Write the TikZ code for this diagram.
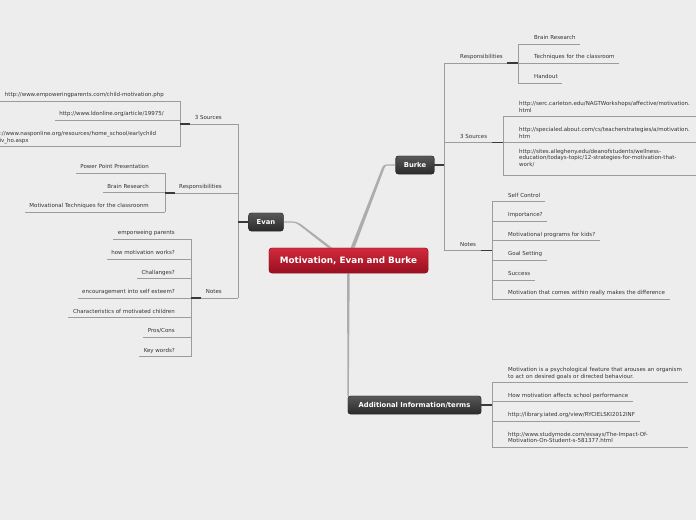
\documentclass[tikz,border=0pt]{standalone}
\usepackage{fontspec}
\usetikzlibrary{calc}
\newfontfamily\mapfont{DejaVu Sans}
\definecolor{MapBack}{HTML}{EDEDED}
\definecolor{MapText}{HTML}{333333}
\definecolor{MapLine}{HTML}{9C9C9C}
\definecolor{MapLink}{HTML}{3A3A3A}
\definecolor{MapBranch}{HTML}{ADADAD}
\definecolor{MapRedTop}{HTML}{D12A3C}
\definecolor{MapRedBot}{HTML}{981020}
\definecolor{MapDarkTop}{HTML}{585858}
\definecolor{MapDarkBot}{HTML}{2A2A2A}
\newcommand\leafstrut{\rule[-1.6pt]{0pt}{1.6pt}}

\begin{document}
\begin{tikzpicture}[x=1pt, y=-1pt,
    leaf/.style={font=\mapfont\fontsize{5.5}{6.6}\selectfont, text=MapText, inner sep=0pt,
        execute at end node={\leafstrut}},
    uline/.style={draw=MapLine, line width=0.8pt},
    leafL/.style={leaf, anchor=south east, xshift=-16pt, yshift=2.4pt,
        append after command={\pgfextra{\edef\leafname{\tikzlastnode}
            \draw[uline] ([shift={(16pt,-2.4pt)}]\leafname.south east) coordinate (\leafname-in)
                -- ([shift={(-4.5pt,-2.4pt)}]\leafname.south west) coordinate (\leafname-out);}}},
    leafR/.style={leaf, anchor=south west, xshift=16pt, yshift=2.4pt,
        append after command={\pgfextra{\edef\leafname{\tikzlastnode}
            \draw[uline] ([shift={(-16pt,-2.4pt)}]\leafname.south west) coordinate (\leafname-in)
                -- ([shift={(4.5pt,-2.4pt)}]\leafname.south east) coordinate (\leafname-out);}}},
    wrap/.style={text width=175pt, align=left},
    link/.style={draw=MapLink, line width=1.2pt},
    bracket/.style={draw=MapLine, line width=0.8pt},
    branch/.style={fill=MapBranch},
    topic/.style={rounded corners=2.5pt, top color=MapDarkTop, bottom color=MapDarkBot, draw=MapDarkBot,
        text=white, font=\mapfont\bfseries\fontsize{6.8}{8}\selectfont, minimum height=18pt, inner xsep=8pt},
    root/.style={rounded corners=3pt, top color=MapRedTop, bottom color=MapRedBot, draw=MapRedBot,
        text=white, font=\mapfont\bfseries\fontsize{8.8}{10}\selectfont, minimum width=159pt, minimum height=25pt}]

    % =========================================
    % 1. Canvas: 696 x 520, light grey
    % =========================================
    \useasboundingbox (0,0) rectangle (696,520);
    \clip (0,0) rectangle (696,520);
    \fill[MapBack] (0,0) rectangle (696,520);

    % =========================================
    % 2. Main topics
    % =========================================
    \node[root] (main) at (348.5,260.5) {Motivation, Evan and Burke};
    \node[topic, minimum width=34pt] (evan) at (266,222) {Evan};
    \node[topic, minimum width=38pt] (burke) at (415,165) {Burke};
    \node[topic, minimum width=133pt] (addi) at (414.5,405) {Additional Information/terms};

    % tapered branches from the centre
    \fill[branch] ($(evan.east)+(0,-0.6)$) -- ($(evan.east)+(8,-0.6)$)
        .. controls ($(evan.east)+(12.5,-0.6)$) and ($(evan.east)+(14.5,0.4)$) .. ($(evan.east)+(18,2.6)$)
        -- ($(main.north)+(-16,0.3)$) -- ($(main.north)+(-20,0.3)$)
        -- ($(evan.east)+(16.8,4)$)
        .. controls ($(evan.east)+(13.5,1.6)$) and ($(evan.east)+(12,0.6)$) .. ($(evan.east)+(8,0.6)$)
        -- ($(evan.east)+(0,0.6)$) -- cycle;
    \fill[branch] ($(burke.west)+(0,-0.6)$) -- ($(burke.west)+(-9,-0.6)$)
        .. controls ($(burke.west)+(-11.5,-0.6)$) and ($(burke.west)+(-12.8,0.6)$) .. ($(burke.west)+(-13.7,3)$)
        -- ($(main.north)+(2,0.3)$) -- ($(main.north)+(6,0.3)$)
        -- ($(burke.west)+(-11.4,3.6)$)
        .. controls ($(burke.west)+(-10.7,2)$) and ($(burke.west)+(-10,0.6)$) .. ($(burke.west)+(-9,0.6)$)
        -- ($(burke.west)+(0,0.6)$) -- cycle;
    \fill[branch] ($(main.south)+(-1.4,-0.5)$) -- ($(main.south)+(1.2,-0.5)$)
        -- ($(addi.north west)+(1,0.5)$) -- ($(addi.north west)+(-0.4,0.5)$) -- cycle;

    % redraw the topics on top of the branches
    \node[root] at (main) {Motivation, Evan and Burke};
    \node[topic, minimum width=34pt] at (evan) {Evan};
    \node[topic, minimum width=38pt] at (burke) {Burke};
    \node[topic, minimum width=133pt] at (addi) {Additional Information/terms};

    % =========================================
    % 3. Evan (left side)
    % =========================================
    \node[leafL] (esrc) at (238,124) {3 Sources};
    \node[leafL] (eres) at (238,193) {Responsibilities};
    \node[leafL] (enot) at (238,298) {Notes};
    \draw[bracket] (esrc-in) -- (enot-in);
    \draw[link] (evan.west) -- (evan.west -| esrc-in);

    % sources
    \node[leafL] (es1) at (180,101) {http://www.empoweringparents.com/child-motivation.php};
    \node[leafL] (es2) at (180,120) {http://www.ldonline.org/article/19975/};
    \node[leafL, wrap] (es3) at (180,146.5) {http://www.nasponline.org/resources/home\_school/earlychild\\motiv\_ho.aspx};
    \draw[bracket] (es1-in) -- (es3-in);
    \draw[link] (esrc-out) -- (esrc-out -| es1-in);

    % responsibilities
    \node[leafL] (er1) at (165,173) {Power Point Presentation};
    \node[leafL] (er2) at (165,192.7) {Brain Research};
    \node[leafL] (er3) at (165,212) {Motivational Techniques for the classroonm};
    \draw[bracket] (er1-in) -- (er3-in);
    \draw[link] (eres-out) -- (eres-out -| er1-in);

    % notes
    \node[leafL] (en1) at (191,239) {emporweing parents};
    \node[leafL] (en2) at (191,259) {how motivation works?};
    \node[leafL] (en3) at (191,278.7) {Challanges?};
    \node[leafL] (en4) at (191,298) {encouragement into self esteem?};
    \node[leafL] (en5) at (191,317.7) {Characteristics of motivated children};
    \node[leafL] (en6) at (191,337) {Pros/Cons};
    \node[leafL] (en7) at (191,356.7) {Key words?};
    \draw[bracket] (en1-in) -- (en7-in);
    \draw[link] (enot-out) -- (enot-out -| en1-in);

    % =========================================
    % 4. Burke (right side)
    % =========================================
    \node[leafR] (bres) at (444,63) {Responsibilities};
    \node[leafR] (bsrc) at (444,142.7) {3 Sources};
    \node[leafR] (bnot) at (444,250.7) {Notes};
    \draw[bracket] (bres-in) -- (bnot-in);
    \draw[link] (burke.east) -- (burke.east -| bres-in);

    % responsibilities
    \node[leafR] (br1) at (518,44) {Brain Research};
    \node[leafR] (br2) at (518,63) {Techniques for the classroom};
    \node[leafR] (br3) at (518,83) {Handout};
    \draw[bracket] (br1-in) -- (br3-in);
    \draw[link] (bres-out) -- (bres-out -| br1-in);

    % sources
    \node[leafR, wrap] (bs1) at (503,116.7) {http://serc.carleton.edu/NAGTWorkshops/affective/motivation.\\html};
    \node[leafR, wrap] (bs2) at (503,142.7) {http://specialed.about.com/cs/teacherstrategies/a/motivation.\\htm};
    \node[leafR, wrap] (bs3) at (503,175.7) {http://sites.allegheny.edu/deanofstudents/wellness-\\education/todays-topic/12-strategies-for-motivation-that-\\work/\\[-1.6pt]\mbox{}};
    \draw[bracket] (bs1-in) -- (bs3-in);
    \draw[link] (bsrc-out) -- (bsrc-out -| bs1-in);

    % notes
    \node[leafR] (bn1) at (492,201.7) {Self Control};
    \node[leafR] (bn2) at (492,221) {Importance?};
    \node[leafR] (bn3) at (492,240.7) {Motivational programs for kids?};
    \node[leafR] (bn4) at (492,260) {Goal Setting};
    \node[leafR] (bn5) at (492,280) {Success};
    \node[leafR] (bn6) at (492,299) {Motivation that comes within really makes the difference};
    \draw[bracket] (bn1-in) -- (bn6-in);
    \draw[link] (bnot-out) -- (bnot-out -| bn1-in);

    % =========================================
    % 5. Additional information
    % =========================================
    \node[leafR, wrap] (ad1) at (492,382.7) {Motivation is a psychological feature that arouses an organism\\to act on desired goals or directed behaviour.};
    \node[leafR] (ad2) at (492,401.7) {How motivation affects school performance};
    \node[leafR] (ad3) at (492,421) {http://library.iated.org/view/RYCIELSKI2012INF};
    \node[leafR, wrap] (ad4) at (492,447) {http://www.studymode.com/essays/The-Impact-Of-\\Motivation-On-Student-s-581377.html};
    \draw[bracket] (ad1-in) -- (ad4-in);
    \draw[link] (addi.east) -- (addi.east -| ad1-in);

\end{tikzpicture}
\end{document}
